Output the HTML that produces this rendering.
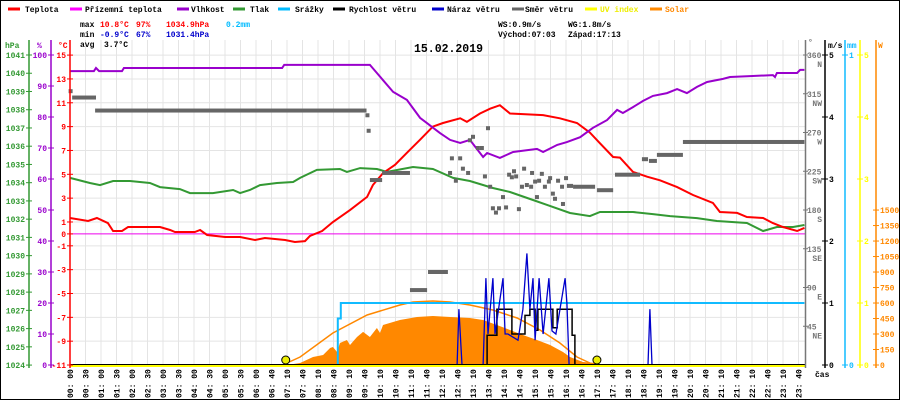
<!DOCTYPE html>
<html><head><meta charset="utf-8"><style>
html,body{margin:0;padding:0;background:#fff}
svg{display:block;font-family:"Liberation Mono","DejaVu Sans Mono",monospace;font-size:8px;font-weight:bold}
</style></head><body>
<svg id="chart" width="900" height="400" viewBox="0 0 900 400">
<rect x="0.5" y="0.5" width="899" height="399" fill="#fff" stroke="#000"/>
<g id="grid"></g>
<g id="series"></g>
<g id="axes"></g>
<g>
 <line x1="8" y1="9" x2="20" y2="9" stroke="#f00" stroke-width="3"/><text x="25" y="12">Teplota</text>
 <line x1="70" y1="9" x2="82" y2="9" stroke="#f0f" stroke-width="3"/><text x="85" y="12">Přízemní teplota</text>
 <line x1="177" y1="9" x2="189" y2="9" stroke="#90c" stroke-width="3"/><text x="191" y="12">Vlhkost</text>
 <line x1="233" y1="9" x2="245" y2="9" stroke="#393" stroke-width="3"/><text x="250" y="12">Tlak</text>
 <line x1="278" y1="9" x2="290" y2="9" stroke="#0bf" stroke-width="3"/><text x="295" y="12">Srážky</text>
 <line x1="333" y1="9" x2="345" y2="9" stroke="#000" stroke-width="3"/><text x="349" y="12">Rychlost větru</text>
 <line x1="432" y1="9" x2="444" y2="9" stroke="#00c" stroke-width="3"/><text x="447" y="12">Náraz větru</text>
 <line x1="512" y1="9" x2="524" y2="9" stroke="#666" stroke-width="3"/><text x="525" y="12">Směr větru</text>
 <line x1="585" y1="9" x2="597" y2="9" stroke="#ff0" stroke-width="3"/><text x="600" y="12" fill="#ee0">UV index</text>
 <line x1="650" y1="9" x2="662" y2="9" stroke="#f80" stroke-width="3"/><text x="665" y="12" fill="#f80">Solar</text>
</g>
<g>
 <text x="80" y="27">max</text><text x="100" y="27" fill="#f00">10.8°C</text><text x="136" y="27" fill="#f00">97%</text><text x="166" y="27" fill="#f00">1034.9hPa</text><text x="226" y="27" fill="#0bf">0.2mm</text>
 <text x="80" y="37">min</text><text x="100" y="37" fill="#00c">-0.9°C</text><text x="136" y="37" fill="#00c">67%</text><text x="166" y="37" fill="#00c">1031.4hPa</text>
 <text x="80" y="47">avg</text><text x="104" y="47">3.7°C</text>
 <text x="498" y="27">WS:0.9m/s</text><text x="568" y="27">WG:1.8m/s</text>
 <text x="498" y="37">Východ:07:03</text><text x="568" y="37">Západ:17:13</text>
</g>
<text x="414" y="52" font-size="11.5" font-weight="bold">15.02.2019</text>
</svg>
<script>
// ---- data (time in hours) ----
const timeLabels=['00:00','00:30','01:00','01:30','02:00','02:30','03:00','03:30','04:00','04:30','05:00','05:30','06:00','06:40','07:10','07:40','08:10','08:40','09:10','09:40','10:10','10:40','11:10','11:40','12:10','12:40','13:10','13:40','14:10','14:40','15:10','15:40','16:10','16:40','17:10','17:40','18:10','18:40','19:10','19:40','20:10','20:40','21:10','21:40','22:10','22:40','23:10','23:40'];
const tempT=[0,0.59,0.88,1.24,1.41,1.70,1.90,2.94,3.27,3.43,4.08,4.25,4.48,5.07,5.56,6.05,6.37,7.03,7.35,7.68,7.84,8.24,8.59,9.15,9.71,9.9,10.23,10.62,11.01,11.44,11.86,12.19,12.75,12.97,13.40,13.73,14.05,14.38,14.80,15.46,16.01,16.57,16.99,17.32,17.75,17.97,18.40,18.86,19.28,19.84,20.36,21.01,21.24,21.80,22.12,22.65,22.97,23.30,23.76,24];
const tempV=[1.33,1.08,1.33,0.91,0.24,0.24,0.58,0.58,0.33,0.16,0.16,0.33,-0.09,-0.26,-0.26,-0.51,-0.34,-0.51,-0.68,-0.6,-0.18,0.24,1.0,2.0,3.1,4.1,5.1,5.8,6.8,7.9,9.0,9.3,9.7,9.4,10.1,10.5,10.8,10.1,10.05,9.97,9.7,9.3,8.5,7.6,6.45,6.4,5.2,4.8,4.5,3.93,3.26,2.6,1.84,1.76,1.42,1.33,0.91,0.58,0.24,0.5];
const humT=[0,0.78,0.85,0.95,1.70,1.76,6.93,7.0,9.80,10.03,10.56,11.01,11.44,11.67,12.09,12.42,12.75,13.07,13.50,13.63,14.05,14.48,15.26,15.46,15.92,16.24,16.67,17.09,17.55,17.88,18.07,18.40,18.73,19.05,19.51,19.84,20.16,20.49,20.82,21.34,21.57,22.22,22.97,23.04,23.10,23.76,23.86,24];
const humV=[94.8,94.8,95.8,94.8,94.8,95.8,95.8,96.8,96.8,94.2,88.1,85.5,79.7,78,74.8,72.6,71.6,72.6,67.1,68.4,66.8,68.7,69.7,68.7,71,71.9,73.5,76.5,79,82.3,81.3,83.2,85.2,86.8,87.7,89,87.7,89.7,91.3,92.3,92.9,93.2,93.5,92.9,94.2,94.2,95.2,95.2];
const presT=[0,0.65,0.98,1.41,1.96,2.61,2.94,3.59,3.92,4.67,5.33,5.56,5.88,6.21,6.76,7.29,7.52,8.07,8.82,9.05,9.48,10.03,10.36,11.21,11.86,12.52,13.07,13.82,14.38,15.13,15.59,16.34,16.99,17.32,18.40,19.05,19.61,20.49,21.14,22.12,22.65,23.10,23.63,24];
const presV=[1034.26,1033.98,1033.87,1034.09,1034.09,1033.98,1033.76,1033.65,1033.43,1033.43,1033.6,1033.43,1033.6,1033.87,1033.98,1034.04,1034.26,1034.7,1034.75,1034.59,1034.8,1034.75,1034.59,1034.86,1034.75,1034.26,1034.09,1033.71,1033.49,1033.05,1032.78,1032.34,1032.17,1032.39,1032.39,1032.28,1032.17,1032.06,1031.9,1031.79,1031.35,1031.57,1031.57,1031.68];
const dirSegStart=[0.07,0.82,9.80,10.20,11.11,11.70,16.24,16.44,17.22,17.81,18.69,18.92,19.18,20.03];
const dirSegEnd=[0.85,9.69,10.20,11.11,11.67,12.35,16.44,17.16,17.75,18.63,18.89,19.18,20.03,24.0];
const dirSegVal=[310.6,295.5,214.8,223,87,108,208,207,203,221,239,237,244,259];
const dirPtT=[0.02,9.72,9.76,12.42,12.48,12.75,12.61,12.84,13.01,13.07,13.17,13.33,13.46,13.66,13.56,13.73,13.82,13.92,14.02,14.15,14.25,14.35,14.44,14.51,14.58,14.67,14.77,14.84,14.93,15.07,15.10,15.20,15.26,15.33,15.42,15.52,15.65,15.69,15.78,15.85,15.95,16.08,16.11,16.21];
const dirPtV=[318,290,272,223,240,240,214,228,223,261,265,252,252,275,219,207,182,177,182,195,183,221,218,225,219,181,207,228,209,207,223,213,195,214,222,207,213,217,199,193,214,207,187,217];
const solarT=[7.09,7.52,7.94,8.27,8.50,8.59,8.73,8.82,9.05,9.15,9.38,9.58,9.80,10.03,10.13,10.23,10.56,10.78,11.34,11.86,12.42,13.07,13.50,14.05,14.38,14.80,15.26,15.69,16.11,16.34,16.76,17.22,17.42];
const solarV=[0,19,77,97,165,174,126,213,242,194,271,320,271,358,310,387,416,436,465,474,465,455,436,377,339,290,242,194,126,77,29,19,0];
const solarMaxT=[7.09,7.52,8.59,9.71,10.78,11.21,11.86,12.42,13.07,13.82,14.61,15.36,16.01,16.57,16.99];
const solarMaxV=[19,77,310,484,581,610,620,610,581,532,455,339,213,77,19];
const rainT=[0,8.72,8.75,8.85,24];
const rainV=[0,0,0.15,0.2,0.2];
const windT=[0,13.50,13.63,13.92,13.95,14.31,14.44,14.77,14.87,15.03,15.20,15.29,15.69,15.78,15.92,16.24,16.41,16.50,24];
const windV=[0,0,0.48,0.48,0.9,0.9,0.5,0.5,0.8,0.9,0.56,0.9,0.9,0.6,0.9,0.9,0.48,0,0];
const gustT=[0,12.65,12.71,12.81,13.50,13.59,13.66,13.82,13.89,14.15,14.22,14.31,14.64,14.80,14.93,15.03,15.13,15.20,15.33,15.46,15.65,15.75,15.88,16.18,16.24,16.31,18.89,18.95,19.02,24];
const gustV=[0,0,0.9,0,0,1.4,0.5,1.4,0.5,1.4,0.5,0.5,0.4,0.9,1.8,0.9,1.4,0.4,1.4,0.5,1.4,0.55,0.5,1.4,1.0,0,0,0.9,0,0];
const sunT=[7.05,17.22];
const hpaTicks=[1041,1040,1039,1038,1037,1036,1035,1034,1033,1032,1031,1030,1029,1028,1027,1026,1025,1024];
const humTicks=[100,90,80,70,60,50,40,30,20,10,0];
const tempTicks=[15,13,11,9,7,5,3,1,0,-1,-3,-5,-7,-9,-11];
const dirTicks=[360,315,270,225,180,135,90,45];
const dirNames=['N','NW','W','SW','S','SE','E','NE'];
const msTicks=[5,4,3,2,1,0];
const mmTicks=[1,0];
const uvTicks=[5,4,3,2,1,0];
const solTicks=[1500,1350,1200,1050,900,750,600,450,300,150,0];

// ---- scales ----
const X=t=>70+t*30.6;
const yT=v=>233.9-v*11.92;
const yH=v=>365-v*3.1;
const yP=v=>55+(1041-v)*18.24;
const yD=v=>365-v*310/360;
const yW=v=>365-v*62;
const yMM=v=>365-v*310;
const yUV=v=>365-v*62;
const yS=v=>365-v*0.1033;

const NS='http://www.w3.org/2000/svg';
function mk(parent,tag,attrs){const e=document.createElementNS(NS,tag);for(const k in attrs)e.setAttribute(k,attrs[k]);parent.appendChild(e);return e;}
const grid=document.getElementById('grid'),S=document.getElementById('series'),A=document.getElementById('axes');

timeLabels.forEach((lb,i)=>{const x=70+i*15.5;
 const l=mk(grid,'line',{x1:x,y1:40,x2:x,y2:365,stroke:'#e4e4e4','stroke-width':1});
 
 
 const tx=mk(A,'text',{x:0,y:0,transform:`translate(${x+3},398) rotate(-90)`});
 tx.textContent=lb.replace(':',': ');
 
 
});
tempTicks.forEach(v=>{if(v===0)return;const y=yT(v);
 const l=mk(grid,'line',{x1:70,y1:y,x2:805,y2:y,stroke:'#e4e4e4','stroke-width':1});
 
 
});
const zl=mk(grid,'line',{x1:70,y1:yT(0),x2:805,y2:yT(0),stroke:'#e0e','stroke-width':1});



function pts(T,V,fy){return T.map((t,i)=>X(t).toFixed(1)+','+fy(V[i]).toFixed(1)).join(' ');}
function stepPts(T,V,fy){let p=[];T.forEach((t,i)=>{if(i>0)p.push(X(t).toFixed(1)+','+fy(V[i-1]).toFixed(1));p.push(X(t).toFixed(1)+','+fy(V[i]).toFixed(1));});return p.join(' ');}

let sp=pts(solarT,solarV,yS)+` ${X(solarT[solarT.length-1])},365 ${X(solarT[0])},365`;
const sf=mk(S,'polygon',{points:sp,fill:'#f80'});


const sm=mk(S,'polyline',{points:pts(solarMaxT,solarMaxV,yS),fill:'none',stroke:'#f80','stroke-width':1.5});


const rl=mk(S,'polyline',{points:stepPts(rainT,rainV,yMM),fill:'none',stroke:'#1bf','stroke-width':2});


const pl=mk(S,'polyline',{points:pts(presT,presV,yP),fill:'none',stroke:'#393','stroke-width':2});


const tl=mk(S,'polyline',{points:pts(tempT,tempV,yT),fill:'none',stroke:'#f00','stroke-width':2});


const hl=mk(S,'polyline',{points:pts(humT,humV,yH),fill:'none',stroke:'#90c','stroke-width':2});


dirSegStart.forEach((t,i)=>{const y=yD(dirSegVal[i]);
 const r=mk(S,'rect',{x:X(t),y:y-2,width:Math.max(3,X(dirSegEnd[i])-X(t)),height:4,fill:'#666'});
 
 
});
dirPtT.forEach((t,i)=>{
 const r=mk(S,'rect',{x:X(t)-2,y:yD(dirPtV[i])-2,width:4,height:4,fill:'#666'});
 
 
});
const wl=mk(S,'polyline',{points:stepPts(windT,windV,yW),fill:'none',stroke:'#000','stroke-width':1.5});


const gl=mk(S,'polyline',{points:pts(gustT,gustV,yW),fill:'none',stroke:'#00c','stroke-width':1.3});


const ul=mk(S,'line',{x1:70,y1:366,x2:805,y2:366,stroke:'#ff0','stroke-width':2});


const bl=mk(S,'line',{x1:70,y1:364.5,x2:805,y2:364.5,stroke:'#000','stroke-width':1});


sunT.forEach(t=>{
 const c=mk(S,'circle',{cx:X(t),cy:360,r:4,fill:'#ee0',stroke:'#000','stroke-width':1});
 
 
});

function axis(x,color,name,unit,ux,ticks,fy,side){
 const l=mk(A,'line',{x1:x,y1:40,x2:x,y2:368,stroke:color,'stroke-width':1.5});
 
 
 const u=mk(A,'text',{x:ux,y:48,fill:color});u.textContent=unit;
 
 
 ticks.forEach(v=>{const y=fy(v);
  mk(A,'line',{x1:x-3,y1:y,x2:x+3,y2:y,stroke:color,'stroke-width':1});
  const tx=mk(A,'text',{x:side==='L'?x-4:x+4,y:y+3,fill:color,'text-anchor':side==='L'?'end':'start'});
  tx.textContent=v;
  
  
 });
}
axis(29,'#393','pressure','hPa',5,hpaTicks,yP,'L');
axis(51,'#90c','humidity','%',37,humTicks,yH,'L');
axis(70,'#f00','temperature','°C',58,tempTicks,yT,'L');
axis(825,'#000','wind-speed','m/s',828,msTicks,yW,'R');
axis(845,'#1bf','precipitation','mm',847,mmTicks,yMM,'R');
axis(860,'#ff0','uv-index','',0,uvTicks,yUV,'R');
axis(876,'#f80','solar','W',878,solTicks,yS,'R');
const dl=mk(A,'line',{x1:805.5,y1:40,x2:805.5,y2:368,stroke:'#777','stroke-width':1.5});


const dt=mk(A,'text',{x:808,y:45,fill:'#777'});dt.textContent='°';


dirTicks.forEach((v,i)=>{const y=yD(v);
 mk(A,'line',{x1:803,y1:y,x2:808,y2:y,stroke:'#777'});
 const a=mk(A,'text',{x:807,y:y+3,fill:'#777'});a.textContent=v;
 
 
 const b=mk(A,'text',{x:822,y:y+12,fill:'#777','text-anchor':'end'});b.textContent=dirNames[i];
 
 
});
const cas=mk(A,'text',{x:815,y:377});cas.textContent='čas';


</script>
</body></html>
